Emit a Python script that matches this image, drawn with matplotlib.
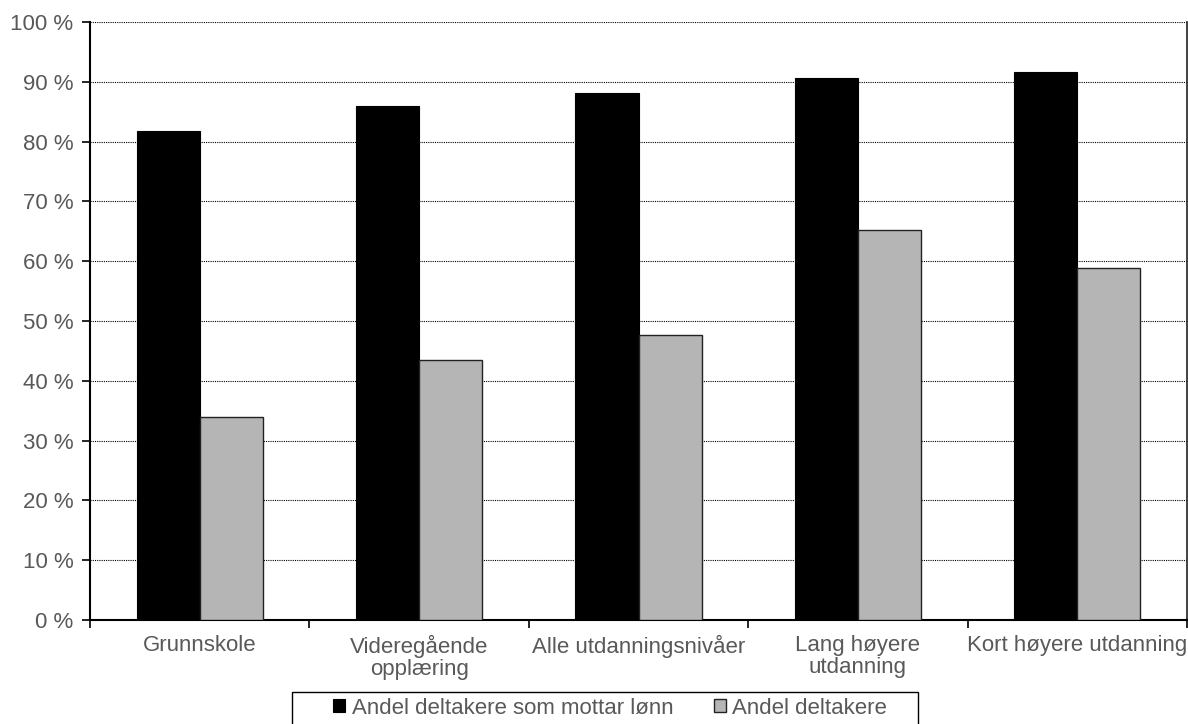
import matplotlib
matplotlib.use("Agg")
import matplotlib.pyplot as plt
import numpy as np
from matplotlib.patches import Patch, Rectangle
from matplotlib.ticker import FixedLocator, FuncFormatter

categories = ["Grunnskole", "Videregående\nopplæring", "Alle utdanningsnivåer",
              "Lang høyere\nutdanning", "Kort høyere utdanning"]
lonn = [81.7, 86.0, 88.2, 90.6, 91.7]
deltakere = [33.9, 43.5, 47.6, 65.2, 58.9]
series_names = ["Andel deltakere som mottar lønn", "Andel deltakere"]

plt.rcParams['font.family'] = ['Liberation Sans', 'DejaVu Sans']
txt = '#595959'
fs = 16

W, H = 1188, 724
fig = plt.figure(figsize=(W/100, H/100), dpi=100)
ax = fig.add_axes([90/W, 1-620/H, 1097/W, 598/H])

x = np.arange(len(categories))
w = 0.288
ax.bar(x - w/2, lonn, w, color='black', edgecolor='black', linewidth=0.8, zorder=3)
ax.bar(x + w/2, deltakere, w, color='#b5b5b5', edgecolor='#222222', linewidth=1.0, zorder=3)

ax.set_xlim(-0.5, len(categories) - 0.5)
ax.set_ylim(0, 100)
ax.set_yticks(np.arange(0, 101, 10))
ax.yaxis.set_major_formatter(FuncFormatter(lambda v, p: f"{int(v)} %"))
for yv in np.arange(10, 101, 10):
    ax.axhline(yv, color='black', linestyle=(0, (1, 1)), linewidth=0.8, zorder=1)

ax.xaxis.set_major_locator(FixedLocator(np.arange(-0.5, len(categories), 1.0)))
ax.set_xticklabels([])
ax.xaxis.set_minor_locator(FixedLocator(x))
ax.set_xticklabels(categories, minor=True)
for lab in ax.get_xticklabels(minor=True):
    lab.set_linespacing(1.05)
ax.tick_params(axis='x', which='minor', length=0, pad=11, labelsize=fs, labelcolor=txt)
ax.tick_params(axis='x', which='major', length=6, width=1.2, direction='out')
ax.tick_params(axis='y', length=6, width=1.2, direction='out', labelsize=fs, labelcolor=txt, pad=6)

ax.spines['top'].set_visible(False)
ax.spines['left'].set_linewidth(1.5)
ax.spines['bottom'].set_linewidth(1.5)
ax.spines['right'].set_linewidth(1.2)
ax.spines['right'].set_color('#222222')

handles = [Patch(facecolor='black', edgecolor='black', linewidth=0.8),
           Patch(facecolor='#b5b5b5', edgecolor='#222222', linewidth=1.0)]
leg = fig.legend(handles, series_names, loc='center left', bbox_to_anchor=(333/W, 1-708/H),
                 ncol=2, frameon=False, fontsize=fs,
                 handlelength=0.55, handleheight=0.55, handletextpad=0.3, columnspacing=1.8,
                 borderpad=0, borderaxespad=0)
for t in leg.get_texts():
    t.set_color(txt)

fig.patches.append(Rectangle((292/W, -0.01), (918-292)/W, 0.01 + 1-692/H,
                             transform=fig.transFigure, fill=False,
                             edgecolor='black', linewidth=1.0))

fig.savefig("out.png", dpi=100)
